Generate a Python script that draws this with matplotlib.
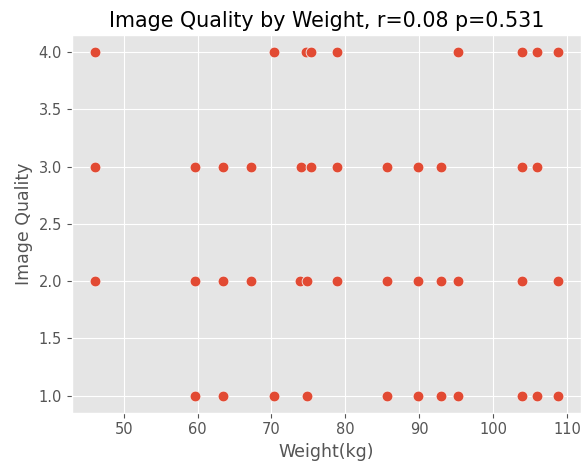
import matplotlib
matplotlib.use('Agg')
import matplotlib.pyplot as plt

plt.style.use('ggplot')

# 데이터
weight_q4 = [46.1, 70.4, 74.7, 75.4, 78.9, 95.3, 103.9, 106.0, 108.8]
weight_q3 = [46.1, 59.7, 63.5, 67.3, 74.0, 75.4, 78.9, 85.7, 89.8, 92.9, 103.9, 106.0]
weight_q2 = [46.1, 59.7, 63.5, 67.3, 73.9, 74.8, 78.9, 85.7, 89.8, 92.9, 95.3, 103.9, 108.8]
weight_q1 = [59.7, 63.5, 70.4, 74.8, 85.7, 89.8, 92.9, 95.3, 103.9, 106.0, 108.8]

weights = weight_q4 + weight_q3 + weight_q2 + weight_q1
quality = [4] * len(weight_q4) + [3] * len(weight_q3) + [2] * len(weight_q2) + [1] * len(weight_q1)

r_value = 0.08
p_value = 0.531

fig = plt.figure(figsize=(5.83, 4.68), dpi=100)
ax = fig.add_axes([0.123, 0.118, 0.874, 0.807])

ax.scatter(weights, quality, s=60, color='#E24A33', edgecolors='#f0f0f0', linewidths=0.6)

ax.set_title(f'Image Quality by Weight, r={r_value} p={p_value}', fontsize=14.9, color='black')
ax.set_xlabel('Weight(kg)', fontsize=12.5)
ax.set_ylabel('Image Quality', fontsize=12.5)
ax.tick_params(labelsize=10.5)

fig.savefig('out.png', dpi=100)
